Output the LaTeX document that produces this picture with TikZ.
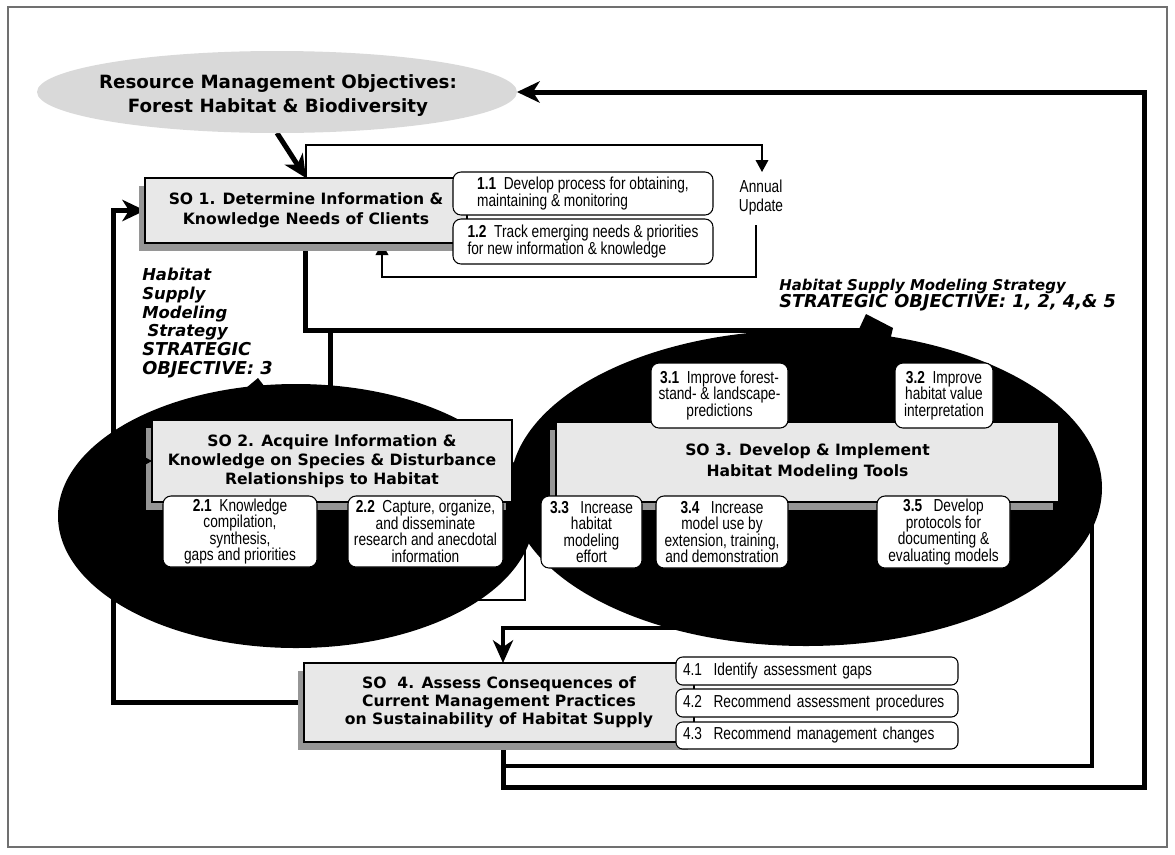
\documentclass[tikz,border=0pt]{standalone}
\usepackage{fontspec}
\setmainfont{DejaVu Sans}
\newfontfamily\nar{Liberation Sans}[FakeStretch=0.79]
\usetikzlibrary{arrows.meta,shapes.geometric,shadows,calc}
\definecolor{ellgray}{HTML}{D9D9D9}
\definecolor{boxgray}{HTML}{E8E8E8}
\definecolor{shadowgray}{HTML}{969696}
\definecolor{bordergray}{HTML}{707070}
\newcommand{\subfnt}{\nar\fontsize{13pt}{12.4pt}\selectfont}
\newcommand{\sofnt}[1]{\fontsize{11.7pt}{#1}\selectfont\bfseries}
\pgfdeclarelayer{bg}
\pgfdeclarelayer{mid}
\pgfsetlayers{bg,mid,main}
\begin{document}
\begin{tikzpicture}[x=0.75pt,y=-0.75pt,
  wh/.style 2 args={minimum width=#1*0.75pt,minimum height=#2*0.75pt},
  thk/.style={line width=3.75pt},
  thkb/.style={line width=3pt},
  thn/.style={line width=1pt},
  bigtip/.tip={Stealth[length=17pt,width=16pt,inset=5pt]},
  tri/.tip={Triangle[length=9pt,width=9.5pt]},
  sobox/.style={draw,line width=0.8pt,fill=boxgray,inner sep=0pt,outer sep=0pt,align=center,
    general shadow={fill=shadowgray,shadow xshift=-4.5pt,shadow yshift=-6pt}},
  sub/.style={draw,line width=0.8pt,fill=white,rounded corners=6pt,inner sep=0pt,outer sep=0pt,align=center,font=\subfnt},
  subl/.style={sub,align=left},
  subf/.style={draw,line width=0.8pt,fill=white,rounded corners=5pt,outer sep=0pt,inner ysep=0pt,inner xsep=5.25pt,
    text width=201pt,align=left,font=\subfnt},
  blob/.style={ellipse,fill=black,inner sep=0pt,outer sep=0pt},
  lbl/.style={font=\bfseries\itshape,align=left,inner sep=0pt}
]
\useasboundingbox (0,0) rectangle (1175,854);

% ---------- main layer: boxes and texts ----------
\node[ellipse,fill=ellgray,wh={480}{82},inner sep=0pt,outer sep=0pt] (rmo) at (277,92) {};
\node[align=center,inner sep=0pt,font=\fontsize{13.7pt}{18pt}\selectfont\bfseries] (rmotxt) at (278,96)
  {Resource Management Objectives:\\Forest Habitat \& Biodiversity};

\node[sobox,wh={322}{65},font={\sofnt{15pt}}] (so1) at (306,210.5)
  {SO 1. Determine Information \&\\Knowledge Needs of Clients};
\node[subl,wh={260}{43},font={\nar\fontsize{13pt}{12.75pt}\selectfont}] (s11) at (583,193.5)
  {\textbf{1.1}\ \ Develop process for obtaining,\\maintaining \& monitoring};
\node[subl,wh={260}{45},font={\nar\fontsize{13pt}{12.75pt}\selectfont}] (s12) at (583,241.5)
  {\textbf{1.2}\ \ Track emerging needs \& priorities\\for new information \& knowledge};
\node[font={\nar\fontsize{13pt}{14.25pt}\selectfont},align=center,inner sep=0pt] (annual) at (761,197.5)
  {Annual\\Update};

\node[sobox,wh={360}{82},font={\sofnt{14.25pt}}] (so2) at (332,461)
  {SO 2. Acquire Information \&\\Knowledge on Species \& Disturbance\\Relationships to Habitat};
\node[sub,wh={154}{71}] (s21) at (240,531.5)
  {\textbf{2.1}\ \ Knowledge\\compilation,\\synthesis,\\gaps and priorities};
\node[sub,wh={155}{71}] (s22) at (425.5,531.5)
  {\textbf{2.2}\ \ Capture, organize,\\and disseminate\\research and anecdotal\\information};

\node[sobox,wh={503}{80},font={\sofnt{15.75pt}}] (so3) at (807.5,462)
  {SO 3. Develop \& Implement\\Habitat Modeling Tools};
\node[sub,wh={137}{65}] (s31) at (719.5,395.5)
  {\textbf{3.1}\ \ Improve forest-\\stand- \& landscape-\\predictions};
\node[sub,wh={98}{65}] (s32) at (944,395.5)
  {\textbf{3.2}\ \ Improve\\habitat value\\interpretation};
\node[sub,wh={101}{72}] (s33) at (591.5,532)
  {\textbf{3.3}\ \ \ Increase\\habitat\\modeling\\effort};
\node[sub,wh={132}{72}] (s34) at (722,532)
  {\textbf{3.4}\ \ \ Increase\\model use by\\extension, training,\\and demonstration};
\node[sub,wh={133}{72}] (s35) at (943.5,532)
  {\textbf{3.5}\ \ \ Develop\\protocols for\\documenting \&\\evaluating models};

\node[sobox,wh={390}{79},font={\sofnt{13.5pt}}] (so4) at (499,702.5)
  {SO\ \ 4. Assess Consequences of\\Current Management Practices\\on Sustainability of Habitat Supply};
\node[subf,minimum height=28*0.75pt] (s41) at (817,671) {4.1\ \ Identify assessment gaps};
\node[subf,minimum height=28*0.75pt] (s42) at (817,703) {4.2\ \ Recommend assessment procedures};
\node[subf,minimum height=27*0.75pt] (s43) at (817,735.5) {4.3\ \ Recommend management changes};

\node[lbl,anchor=west,font=\fontsize{13.3pt}{12.75pt}\selectfont\bfseries\itshape] (hsmR) at (779,295.5)
  {{\fontsize{11.2pt}{12.75pt}\selectfont Habitat Supply Modeling Strategy}\\STRATEGIC OBJECTIVE: 1, 2, 4,\& 5};
\node[lbl,anchor=west,font=\fontsize{12.3pt}{14.1pt}\selectfont\bfseries\itshape] (hsmL) at (142,323)
  {Habitat\\Supply\\Modeling\\\hspace*{4pt}Strategy\\{\fontsize{13.3pt}{14.1pt}\selectfont STRATEGIC}\\{\fontsize{13.3pt}{14.1pt}\selectfont OBJECTIVE: 3}};

% small arrow into SO2 (its line lies on the black ellipse)
\coordinate (l2) at (113,461);
\draw[thk,-{Stealth[length=7pt,width=7.5pt]}] (l2) -- (so2.west);

% ---------- mid layer: black ellipses with pointers ----------
\begin{pgfonlayer}{mid}
\node[blob,wh={476}{264}] (so2e) at (296,516) {};
\fill (240,393) -- (258,378) -- (268,391) -- cycle;
\node[blob,wh={592}{316}] (so3e) at (806,488) {};
\fill (853,342) -- (866,314) -- (893,328) -- (889,345) -- cycle;
\end{pgfonlayer}

% ---------- background layer: frame and connectors ----------
\begin{pgfonlayer}{bg}
\draw[draw=bordergray,line width=1pt] (8,7) rectangle (1167,847);

\draw[thk,-bigtip] (rmo.south) -- (so1.north);

\coordinate (a2) at (762,145);
\coordinate (a3) at (762,172);
\draw[thn,-tri] (so1.north) |- (a2) -- (a3);
\coordinate (r1) at (756,225);
\coordinate (r2) at (382,277);
\draw[thn,-tri] (r1) |- (r2) -- (r2 |- so1.south);

\coordinate (t1) at (305,330);
\coordinate (t2) at (862,330);
\draw[thk] (so1.south -| t1) -- (t1) -- (t2);
\coordinate (t3) at (330,330);
\coordinate (t4) at (330,400);
\draw[thk] (t3) -- (t4);

\coordinate (l1) at (113,460);
\draw[thk,-bigtip] (so4.west) -| (l1) |- (so1.west);

\coordinate (b1) at (503,787);
\coordinate (rt) at (1144,92);
\draw[thk,-bigtip] (so4.south -| b1) -- (b1) -| (rt) -- (rmo.east);
\coordinate (b2) at (503,766);
\coordinate (ir) at (1092,500);
\draw[thkb] (b2) -| (ir);

\coordinate (d1) at (700,628);
\coordinate (d2) at (503,628);
\draw[thkb,-{Stealth[length=17pt,width=15pt,inset=5pt]}] (so3.south -| d1) -- (d1) -- (d2) -- (so4.north -| d2);

\coordinate (k1) at (525,540);
\coordinate (k2) at (470,600);
\draw[thn] (k1) |- (k2);
\end{pgfonlayer}
\end{tikzpicture}
\end{document}
